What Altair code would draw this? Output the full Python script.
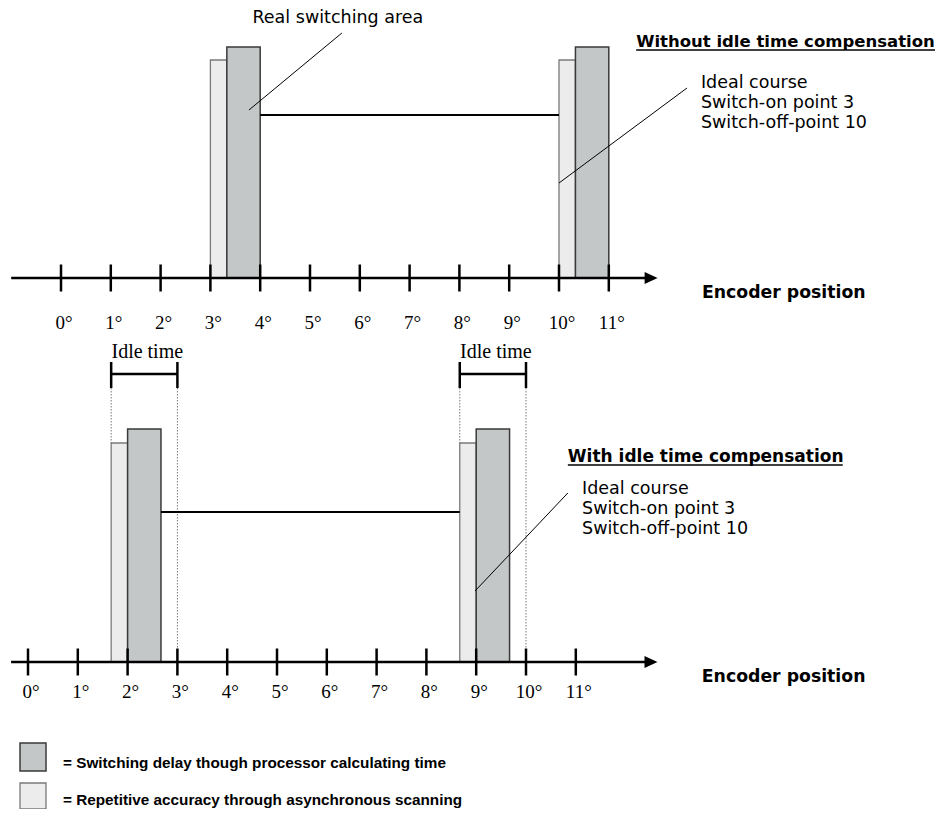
import altair as alt
import pandas as pd

# ---------------- data ----------------
DEGREES = list(range(12))
DEGREE_LABELS = [f"{d}°" for d in DEGREES]

PANEL_TITLES = ["Without idle time compensation", "With idle time compensation"]
# speckled bars: repetitive accuracy (start / end in degrees)
ACC_START = [[3.0, 10.0], [1.67, 8.67]]
ACC_END = [[3.33, 10.33], [2.0, 9.0]]
ACC_HEIGHT = [218, 219]
# grey bars: switching delay
DELAY_START = [[3.33, 10.33], [2.0, 9.0]]
DELAY_END = [[4.0, 11.0], [2.67, 9.67]]
DELAY_HEIGHT = [231, 233]
# ideal course line
IDEAL_START = [4.0, 2.67]
IDEAL_END = [10.0, 8.67]
IDEAL_LEVEL = [163, 150]
# idle-time brackets (bottom panel)
IDLE_START = [1.67, 8.67]
IDLE_END = [3.0, 10.0]
IDLE_LABEL = "Idle time"
IDEAL_TEXT = ["Ideal course", "Switch-on point 3", "Switch-off-point 10"]
REAL_AREA_TEXT = "Real switching area"
AXIS_TITLE = "Encoder position"
LEGEND_TEXT = [
    "= Switching delay though processor calculating time",
    "= Repetitive accuracy through asynchronous scanning",
]

# ---------------- layout (positions in degree / height units) ----------------
PX_PER_DEG = 49.8
PANEL_SHIFT = [0.0, -33 / PX_PER_DEG]      # x offset of each panel (deg)
PANEL_BASE = [0, -384]                     # baseline of each panel (height units)
AXIS_START = [-1.0, -0.34]
AXIS_END = [11.73, 12.39]
ARROW_AT = [11.85, 12.51]
TICK_HALF = 13.5
TICK_LABEL_DROP = [45, 30]
TITLE_POS = [(11.55, 236), (10.84, 205)]
TITLE_SIZE = [16.5, 17]
TITLE_LEN = [6.1, 5.52]
TITLE_UNDERLINE_DROP = 8
IDEAL_TEXT_POS = [(12.85, 195), (11.125, 173)]
IDEAL_TEXT_STEP = 20
IDEAL_LEADER = [((12.57, 190), (10.0, 95)), ((10.84, 169), (8.976, 71))]
AXIS_TITLE_POS = [(12.87, -15), (13.53, -15)]
REAL_AREA_POS = (5.56, 260)
REAL_AREA_LEADER = ((5.64, 245), (3.775, 168))
IDLE_BRACKET_Y = 288
IDLE_TICK = (274, 300)
IDLE_LABEL_Y = 310
LEGEND_BOX_X = (-0.823, -0.301)
LEGEND_BOX_Y = [(-465, -493), (-505, -531)]
LEGEND_TEXT_X = 0.04
LEGEND_TEXT_Y = [-485, -522]

W, H = 927, 801
X0 = -53 / PX_PER_DEG
XDOM = [X0, X0 + W / PX_PER_DEG]
YDOM = [270 - H, 270]

xs = alt.Scale(domain=XDOM, nice=False, zero=False)
ys = alt.Scale(domain=YDOM, nice=False, zero=False)

DARK_FILL = "#c3c7c7"
LIGHT_FILL = "#ececec"

# ---------------- build tables ----------------
acc_rows, delay_rows = [], []
thick, ideal, leader, dotted, underline = [], [], [], [], []
tick_lbl, idle_lbl, sans_left, bold_titles, bold_axis, arrows = [], [], [], [], [], []

for p in range(2):
    sx, by = PANEL_SHIFT[p], PANEL_BASE[p]
    for s, e in zip(ACC_START[p], ACC_END[p]):
        acc_rows.append(dict(x=s + sx, x2=e + sx, y=by, y2=by + ACC_HEIGHT[p]))
    for s, e in zip(DELAY_START[p], DELAY_END[p]):
        delay_rows.append(dict(x=s + sx, x2=e + sx, y=by, y2=by + DELAY_HEIGHT[p]))
    thick.append(dict(x=AXIS_START[p] + sx, x2=AXIS_END[p] + sx, y=by, y2=by))
    arrows.append(dict(x=ARROW_AT[p] + sx, y=by))
    for d, lab in zip(DEGREES, DEGREE_LABELS):
        thick.append(dict(x=d + sx, x2=d + sx, y=by - TICK_HALF, y2=by + TICK_HALF))
        tick_lbl.append(dict(x=d + sx, y=by - TICK_LABEL_DROP[p], t=lab))
    ideal.append(dict(x=IDEAL_START[p] + sx, x2=IDEAL_END[p] + sx,
                      y=by + IDEAL_LEVEL[p], y2=by + IDEAL_LEVEL[p]))
    tx, ty = TITLE_POS[p]
    bold_titles.append(dict(x=tx + sx, y=by + ty, t=PANEL_TITLES[p], s=TITLE_SIZE[p]))
    underline.append(dict(x=tx + sx, x2=tx + TITLE_LEN[p] + sx,
                          y=by + ty - TITLE_UNDERLINE_DROP, y2=by + ty - TITLE_UNDERLINE_DROP))
    ix, iy = IDEAL_TEXT_POS[p]
    for k, line in enumerate(IDEAL_TEXT):
        sans_left.append(dict(x=ix + sx, y=by + iy - k * IDEAL_TEXT_STEP, t=line))
    (a, b), (c, d) = IDEAL_LEADER[p]
    leader.append(dict(x=a + sx, x2=c + sx, y=by + b, y2=by + d))
    ax_, ay_ = AXIS_TITLE_POS[p]
    bold_axis.append(dict(x=ax_ + sx, y=by + ay_, t=AXIS_TITLE))

# top panel label
(a, b), (c, d) = REAL_AREA_LEADER
leader.append(dict(x=a, x2=c, y=b, y2=d))
real_df = pd.DataFrame([dict(x=REAL_AREA_POS[0], y=REAL_AREA_POS[1], t=REAL_AREA_TEXT)])

# idle-time brackets (bottom panel)
sx, by = PANEL_SHIFT[1], PANEL_BASE[1]
for s, e in zip(IDLE_START, IDLE_END):
    thick.append(dict(x=s + sx, x2=e + sx, y=by + IDLE_BRACKET_Y, y2=by + IDLE_BRACKET_Y))
    for v in (s, e):
        thick.append(dict(x=v + sx, x2=v + sx, y=by + IDLE_TICK[0], y2=by + IDLE_TICK[1]))
    idle_lbl.append(dict(x=(s + e) / 2 + sx, y=by + IDLE_LABEL_Y, t=IDLE_LABEL))
    dotted.append(dict(x=s + sx, x2=s + sx, y=by + IDLE_TICK[0], y2=by + ACC_HEIGHT[1]))
    dotted.append(dict(x=e + sx, x2=e + sx, y=by + IDLE_TICK[0], y2=by))

# legend
leg_dark = pd.DataFrame([dict(x=LEGEND_BOX_X[0], x2=LEGEND_BOX_X[1],
                              y=LEGEND_BOX_Y[0][0], y2=LEGEND_BOX_Y[0][1])])
leg_light = pd.DataFrame([dict(x=LEGEND_BOX_X[0], x2=LEGEND_BOX_X[1],
                               y=LEGEND_BOX_Y[1][0], y2=LEGEND_BOX_Y[1][1])])
leg_text = pd.DataFrame([dict(x=LEGEND_TEXT_X, y=yy, t=t) for yy, t in zip(LEGEND_TEXT_Y, LEGEND_TEXT)])


def rect_layer(df, fill, stroke, sw):
    return alt.Chart(df).mark_rect(fill=fill, stroke=stroke, strokeWidth=sw).encode(
        x=alt.X("x:Q", scale=xs, axis=None), x2="x2:Q",
        y=alt.Y("y:Q", scale=ys, axis=None), y2="y2:Q")


def rule_layer(rows, **kw):
    return alt.Chart(pd.DataFrame(rows)).mark_rule(**kw).encode(
        x=alt.X("x:Q", scale=xs, axis=None), x2="x2:Q",
        y=alt.Y("y:Q", scale=ys, axis=None), y2="y2:Q")


def text_layer(df, **kw):
    return alt.Chart(df).mark_text(**kw).encode(
        x=alt.X("x:Q", scale=xs, axis=None),
        y=alt.Y("y:Q", scale=ys, axis=None), text="t:N")


layers = [
    rule_layer(dotted, color="#777777", strokeWidth=1, strokeDash=[1.5, 1.5]),
    rect_layer(pd.DataFrame(acc_rows), LIGHT_FILL, "#7a7a7a", 1.3),
    rect_layer(pd.DataFrame(delay_rows), DARK_FILL, "#3a3a3a", 1.5),
    rule_layer(thick, color="black", strokeWidth=2.5),
    rule_layer(ideal, color="black", strokeWidth=2),
    rule_layer(leader, color="black", strokeWidth=1),
    rule_layer(underline, color="black", strokeWidth=1.6),
    alt.Chart(pd.DataFrame(arrows)).mark_point(
        shape="M-1,-0.92L1,0L-1,0.92Z", filled=True, size=169, color="black", opacity=1,
        strokeWidth=0).encode(
        x=alt.X("x:Q", scale=xs, axis=None), y=alt.Y("y:Q", scale=ys, axis=None)),
    text_layer(pd.DataFrame(tick_lbl), font="Liberation Serif", fontSize=19,
               align="center", baseline="middle", dx=3, color="black"),
    text_layer(pd.DataFrame(idle_lbl), font="Liberation Serif", fontSize=20,
               align="center", baseline="middle", dx=3, color="black"),
    text_layer(pd.DataFrame(sans_left), font="DejaVu Sans", fontSize=17.5,
               align="left", baseline="middle", color="black"),
    text_layer(real_df, font="DejaVu Sans", fontSize=17.5,
               align="center", baseline="middle", color="black"),
    text_layer(pd.DataFrame(bold_titles), font="DejaVu Sans", fontWeight="bold",
               align="left", baseline="middle", color="black").encode(
        size=alt.Size("s:Q", scale=None, legend=None)),
    text_layer(pd.DataFrame(bold_axis), font="DejaVu Sans", fontSize=17.3, fontWeight="bold",
               align="left", baseline="middle", color="black"),
    rect_layer(leg_dark, DARK_FILL, "#3a3a3a", 1.5),
    rect_layer(leg_light, LIGHT_FILL, "#7a7a7a", 1.3),
    text_layer(leg_text, font="Liberation Sans", fontSize=15.3, fontWeight="bold",
               align="left", baseline="middle", color="black"),
]

chart = alt.layer(*layers).properties(
    width=W, height=H, padding=0,
    autosize=alt.AutoSizeParams(type="none"),
).configure_view(stroke=None)

chart.save("out.html", embed_options={"renderer": "svg", "actions": False})
